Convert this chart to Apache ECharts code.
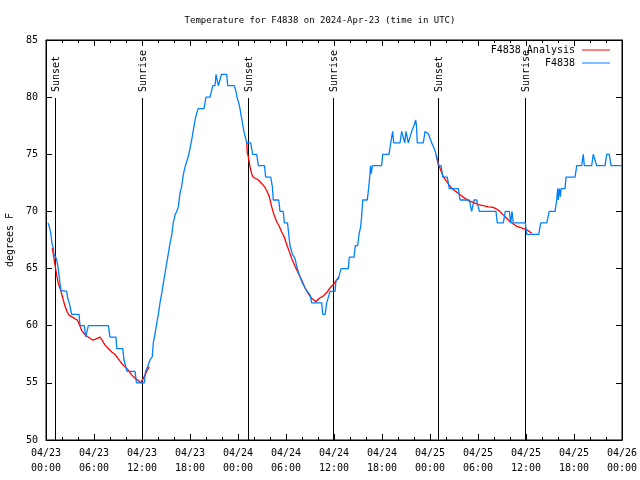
<!DOCTYPE html>
<html><head><meta charset="utf-8">
<script src="https://cdn.jsdelivr.net/npm/echarts@6/dist/echarts.min.js"></script>
<style>html,body{margin:0;padding:0;background:#fff}#c{width:640px;height:480px}</style>
</head><body><div id="c"></div>
<script>
// hours since 2024-04-23 00:00 UTC
const xTickLabels = ["04/23\n00:00","04/23\n06:00","04/23\n12:00","04/23\n18:00","04/24\n00:00","04/24\n06:00","04/24\n12:00","04/24\n18:00","04/25\n00:00","04/25\n06:00","04/25\n12:00","04/25\n18:00","04/26\n00:00"];
const sunTimes = [1.16, 12.04, 25.2, 35.9, 49.04, 59.9];
const sunLabels = ["Sunset","Sunrise","Sunset","Sunrise","Sunset","Sunrise"];

const obsHours = [0.25,0.41,0.59,0.75,0.91,1.0,1.21,1.34,1.5,1.63,1.75,1.88,2.0,2.59,2.71,2.91,3.13,3.21,4.13,4.25,4.79,4.96,5.16,5.29,7.79,8.0,8.75,8.84,9.59,9.75,9.94,10.13,11.13,11.31,12.29,12.44,12.75,13.0,13.29,13.41,13.63,13.84,14.04,14.25,14.46,14.66,14.88,15.09,15.29,15.5,15.71,15.91,16.13,16.34,16.54,16.75,16.96,17.16,17.38,17.59,17.79,18.0,18.21,18.41,18.63,18.84,19.04,19.75,20.0,20.5,20.71,20.84,21.13,21.25,21.44,21.54,21.75,21.94,22.59,22.71,23.54,23.75,23.91,24.09,24.25,24.38,24.5,24.66,24.84,25.0,25.09,25.59,25.71,25.84,26.34,26.54,27.31,27.46,28.09,28.29,28.41,29.09,29.25,29.66,29.79,30.19,30.34,30.5,30.71,30.84,31.13,31.34,31.54,31.84,32.09,32.38,32.66,33.0,33.21,34.46,34.59,34.88,35.09,35.29,35.5,36.13,36.25,36.54,36.88,37.79,37.91,38.5,38.66,38.96,39.13,39.34,39.46,39.59,40.16,40.34,40.5,40.56,40.66,40.79,41.96,42.09,42.88,43.09,43.34,43.46,44.25,44.46,44.66,44.84,45.0,45.13,45.29,45.5,45.71,45.91,46.04,46.21,46.31,46.41,47.16,47.38,47.59,47.79,48.0,48.21,48.41,48.63,48.84,49.04,49.38,49.59,50.16,50.41,51.54,51.75,52.91,53.06,53.21,53.34,53.5,53.84,54.0,54.16,56.25,56.41,57.16,57.41,57.91,58.09,58.25,58.41,59.91,60.09,61.59,61.84,62.59,62.91,63.63,63.84,63.96,64.04,64.16,64.29,64.38,64.88,65.0,66.13,66.34,66.96,67.16,67.29,68.21,68.41,68.63,68.84,69.88,70.09,70.41,70.63,71.88];
const obsTemps = [69,68.7,68.1,67.2,66.8,66.2,66,65.75,65.1,64.4,63.7,63.1,63,63,62.4,62,62,61,61,60,60,59,59,60,60,59,59,58,58,57,57,56,56,55,55,56,56.5,57,57.3,58.5,59.3,60.2,61,62,62.8,63.7,64.6,65.5,66.3,67.2,67.9,69,69.7,70,70.4,71.6,72.2,73.2,73.9,74,74.8,75.5,76.25,77.1,78,78.6,79,79,80,80,80.6,81,81,82,82,81,81,82,82,81,81,80.5,79.9,79.5,79,78.4,78,77.3,76.7,76.25,76,76,75.5,75,75,74,74,73,73,72.2,71,71,70,70,69,69,68,67,67,66.2,65.9,65.2,64.7,64.1,63.7,63.3,63,62.7,62,62,61,61,62,62,63,63,64,64.1,65,65,66,66,67,67,68,68.7,69.6,71,71,72.1,73.3,74,73.3,74,74,75,75,76,77,76,76,77,77,76,77,77,76,76,77,77,77.6,78,77.5,76,76,77,77,76.8,76.4,76,75.9,75.3,74.8,74,74,73,73,72,72,71,71,70.5,70,70,71,71,70.5,70,70,69,69,70,70,69,70,69,69,68,68,69,69,70,70,71,72,71,72,71.3,72,72,73,73,74,74,75,74,74,75,75,74,74,75,75,74,74];

// analysis series (null = gap)
const anaHours = [0.79,1.0,1.34,1.54,1.84,2.16,2.38,2.66,2.91,3.21,3.63,3.91,4.16,4.46,4.75,5.09,5.5,5.84,6.13,6.41,6.75,7.0,7.38,7.79,8.21,8.63,9.04,9.46,9.88,10.29,10.71,11.13,11.54,11.84,12.09,12.38,12.66,12.91,
  18.0,
  25.09,25.16,25.29,25.5,25.71,25.84,26.13,26.54,26.96,27.38,27.66,27.91,28.21,28.5,28.84,29.16,29.46,29.75,30.09,30.41,30.71,31.13,31.54,31.96,32.38,32.79,33.21,33.75,34.16,34.66,35.09,35.5,35.91,36.34,36.63,
  42.0,
  48.75,49.04,49.34,49.66,50.09,50.5,50.91,51.54,52.16,52.79,53.41,54.04,54.66,55.29,55.91,56.34,56.75,57.16,57.59,58.0,58.41,58.84,59.25,59.66,60.09,60.71];
const anaTemps = [66.8,65.9,64.4,63.7,63.1,62.25,61.7,61.2,60.9,60.8,60.6,60.5,60.1,59.6,59.3,59.1,58.9,58.75,58.8,58.9,59.0,58.75,58.3,58,57.7,57.5,57.1,56.7,56.4,56.1,55.7,55.4,55.2,55,55.3,55.7,56.1,56.4,
  null,
  76.1,75.1,74.8,73.9,73.3,73.05,72.9,72.75,72.45,72.1,71.7,71.3,70.4,69.7,69.1,68.7,68.2,67.8,67.1,66.5,65.9,65.2,64.6,64,63.3,62.8,62.4,62.1,62.4,62.6,62.9,63.3,63.6,64,64.3,
  null,
  74.9,74.2,73.6,73.05,72.6,72.2,71.9,71.6,71.25,70.95,70.8,70.6,70.5,70.4,70.35,70.2,70.0,69.7,69.4,69.1,68.9,68.7,68.6,68.5,68.4,68.1];

const FONT = 'DejaVu Sans Mono';
const chart = echarts.init(document.getElementById('c'), null, {renderer:'canvas'});
const axisCommon = {
  axisLine:{show:true,onZero:false,lineStyle:{color:'#000',width:1}},
  splitLine:{show:false}
};
chart.setOption({
  animation:false,
  backgroundColor:'#fff',
  title:{text:'Temperature for F4838 on 2024-Apr-23 (time in UTC)',left:'center',top:11,
    textStyle:{fontFamily:FONT,fontSize:9,fontWeight:'normal',color:'#000'}},
  legend:[
    {data:['F4838 Analysis'],right:30,top:45,padding:0,orient:'vertical',align:'right',icon:'rect',itemWidth:28,itemHeight:1,itemGap:0,
      textStyle:{fontFamily:FONT,fontSize:10,color:'#000',padding:[0,2,0,0]}},
    {data:['F4838'],right:30,top:58,padding:0,orient:'vertical',align:'right',icon:'rect',itemWidth:28,itemHeight:1,itemGap:0,
      textStyle:{fontFamily:FONT,fontSize:10,color:'#000',padding:[0,2,0,0]}}
  ],
  grid:{left:46,right:18,top:40,bottom:40,containLabel:false,outerBoundsMode:'none',show:true,borderColor:'#000',borderWidth:1,backgroundColor:'transparent'},
  xAxis:[
    Object.assign({type:'value',min:0,max:72,interval:6,position:'bottom',
      axisTick:{show:true,inside:true,length:6,lineStyle:{color:'#000'}},
      minorTick:{show:true,splitNumber:3,length:3,lineStyle:{color:'#000'}},
      axisLabel:{margin:6,fontFamily:FONT,fontSize:10,color:'#000',lineHeight:15,
        formatter:function(v){return xTickLabels[Math.round(v/6)];}}},axisCommon),
    Object.assign({type:'value',min:0,max:72,interval:6,position:'top',
      axisTick:{show:true,inside:true,length:6,lineStyle:{color:'#000'}},
      minorTick:{show:true,splitNumber:3,length:3,lineStyle:{color:'#000'}},
      axisLabel:{show:false}},axisCommon)
  ],
  yAxis:[
    Object.assign({type:'value',min:50,max:85,interval:5,position:'left',
      name:'degrees F',nameLocation:'middle',nameGap:31,nameRotate:90,
      nameTextStyle:{fontFamily:FONT,fontSize:10,color:'#000'},
      axisTick:{show:true,inside:true,length:6,lineStyle:{color:'#000'}},
      axisLabel:{margin:8,fontFamily:FONT,fontSize:10,color:'#000'}},axisCommon),
    Object.assign({type:'value',min:50,max:85,interval:5,position:'right',
      axisTick:{show:true,inside:true,length:6,lineStyle:{color:'#000'}},
      axisLabel:{show:false}},axisCommon)
  ],
  series:[
    {type:'custom',name:'sun',xAxisIndex:0,yAxisIndex:0,clip:false,silent:true,
      data:sunTimes.map(t=>[t,50]),
      renderItem:function(params,api){
        const cs=params.coordSys;
        const x=Math.round(api.coord([api.value(0),50])[0])+0.5;
        const yB=cs.y+cs.height, yT=cs.y+58;
        return {type:'group',children:[
          {type:'line',shape:{x1:x,y1:yT,x2:x,y2:yB},style:{stroke:'#000',lineWidth:1}},
          {type:'text',x:x+1,y:yT-6,rotation:Math.PI/2,
            style:{text:sunLabels[params.dataIndex],font:'10px '+FONT,fill:'#000',align:'left',verticalAlign:'middle'}}
        ]};
      }},
    {type:'line',name:'F4838 Analysis',data:anaHours.map((h,i)=>[h,anaTemps[i]]),
      symbol:'none',connectNulls:false,lineStyle:{color:'#ff0000',width:1.3},itemStyle:{color:'#ff0000'}},
    {type:'line',name:'F4838',data:obsHours.map((h,i)=>[h,obsTemps[i]]),
      symbol:'none',lineStyle:{color:'#0080ff',width:1.3},itemStyle:{color:'#0080ff'}}
  ]
});
</script></body></html>
